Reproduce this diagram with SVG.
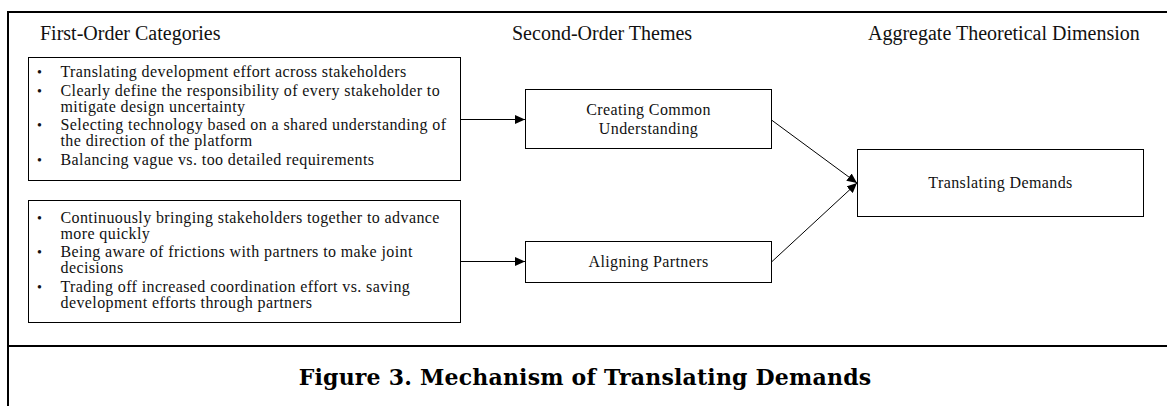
<svg xmlns="http://www.w3.org/2000/svg" width="1167" height="406" viewBox="0 0 1167 406">
<style>
.hdr{font-family:"Liberation Serif","Times New Roman",serif;font-size:20px;fill:#111}
.body{font-family:"Liberation Serif","Times New Roman",serif;font-size:16px;letter-spacing:0.4px;fill:#111}
.bul{font-family:"Liberation Serif","Times New Roman",serif;font-size:14px;fill:#111}
.lbl{font-family:"Liberation Serif","Times New Roman",serif;font-size:16px;letter-spacing:0.4px;fill:#111;text-anchor:middle}
.cap{font-family:"DejaVu Serif","Liberation Serif",serif;font-size:22px;letter-spacing:0.2px;font-weight:bold;fill:#000;text-anchor:middle}
.box{fill:#fff;stroke:#000;stroke-width:1}
.frame{stroke:#000;stroke-width:2;fill:none}
.conn{stroke:#000;stroke-width:1;fill:none}
</style>
<defs>
<marker id="ah" markerUnits="userSpaceOnUse" markerWidth="11" markerHeight="9" refX="10" refY="4.5" orient="auto">
<path d="M0,0 L10,4.5 L0,9 z" fill="#000"/>
</marker>
</defs>
<rect width="1167" height="406" fill="#fff"/>
<g id="frame">
<line class="frame" x1="8" y1="12" x2="1167" y2="12"/>
<line class="frame" x1="8" y1="11" x2="8" y2="406"/>
<line class="frame" x1="8" y1="346" x2="1167" y2="346"/>
</g>
<g id="headers">
<text class="hdr" x="40" y="40">First-Order Categories</text>
<text class="hdr" x="512" y="40">Second-Order Themes</text>
<text class="hdr" x="868" y="40">Aggregate Theoretical Dimension</text>
</g>
<g id="connectors">
<line class="conn" x1="461" y1="119.5" x2="525" y2="119.5" marker-end="url(#ah)"/>
<line class="conn" x1="461" y1="261.5" x2="525" y2="261.5" marker-end="url(#ah)"/>
<line class="conn" x1="771.5" y1="120" x2="857" y2="183" marker-end="url(#ah)"/>
<line class="conn" x1="771.5" y1="262" x2="857" y2="183" marker-end="url(#ah)"/>
</g>
<g id="first-order-1">
<rect class="box" x="28.5" y="57.5" width="432" height="123"/>
<text class="bul" x="37" y="77">•</text>
<text class="body" x="60.5" y="77">Translating development effort across stakeholders</text>
<text class="bul" x="37" y="95.5">•</text>
<text class="body" x="60.5" y="95.5">Clearly define the responsibility of every stakeholder to</text>
<text class="body" x="60.5" y="111.5">mitigate design uncertainty</text>
<text class="bul" x="37" y="130">•</text>
<text class="body" x="60.5" y="130">Selecting technology based on a shared understanding of</text>
<text class="body" x="60.5" y="146">the direction of the platform</text>
<text class="bul" x="37" y="164.5">•</text>
<text class="body" x="60.5" y="164.5">Balancing vague vs. too detailed requirements</text>
</g>
<g id="first-order-2">
<rect class="box" x="28.5" y="200.5" width="432" height="122"/>
<text class="bul" x="37" y="222.5">•</text>
<text class="body" x="60.5" y="222.5">Continuously bringing stakeholders together to advance</text>
<text class="body" x="60.5" y="238.5">more quickly</text>
<text class="bul" x="37" y="257">•</text>
<text class="body" x="60.5" y="257">Being aware of frictions with partners to make joint</text>
<text class="body" x="60.5" y="273">decisions</text>
<text class="bul" x="37" y="291.5">•</text>
<text class="body" x="60.5" y="291.5">Trading off increased coordination effort vs. saving</text>
<text class="body" x="60.5" y="307.5">development efforts through partners</text>
</g>
<g id="creating-common-understanding">
<rect class="box" x="525.5" y="89.5" width="246" height="59"/>
<text class="lbl" x="648.5" y="115">Creating Common</text>
<text class="lbl" x="648.5" y="133.5">Understanding</text>
</g>
<g id="aligning-partners">
<rect class="box" x="525.5" y="241.5" width="246" height="41"/>
<text class="lbl" x="648.5" y="267">Aligning Partners</text>
</g>
<g id="translating-demands">
<rect class="box" x="857.5" y="149.5" width="286" height="67"/>
<text class="lbl" x="1000.5" y="188">Translating Demands</text>
</g>
<g id="caption">
<text class="cap" x="585" y="385">Figure 3. Mechanism of Translating Demands</text>
</g>
</svg>
